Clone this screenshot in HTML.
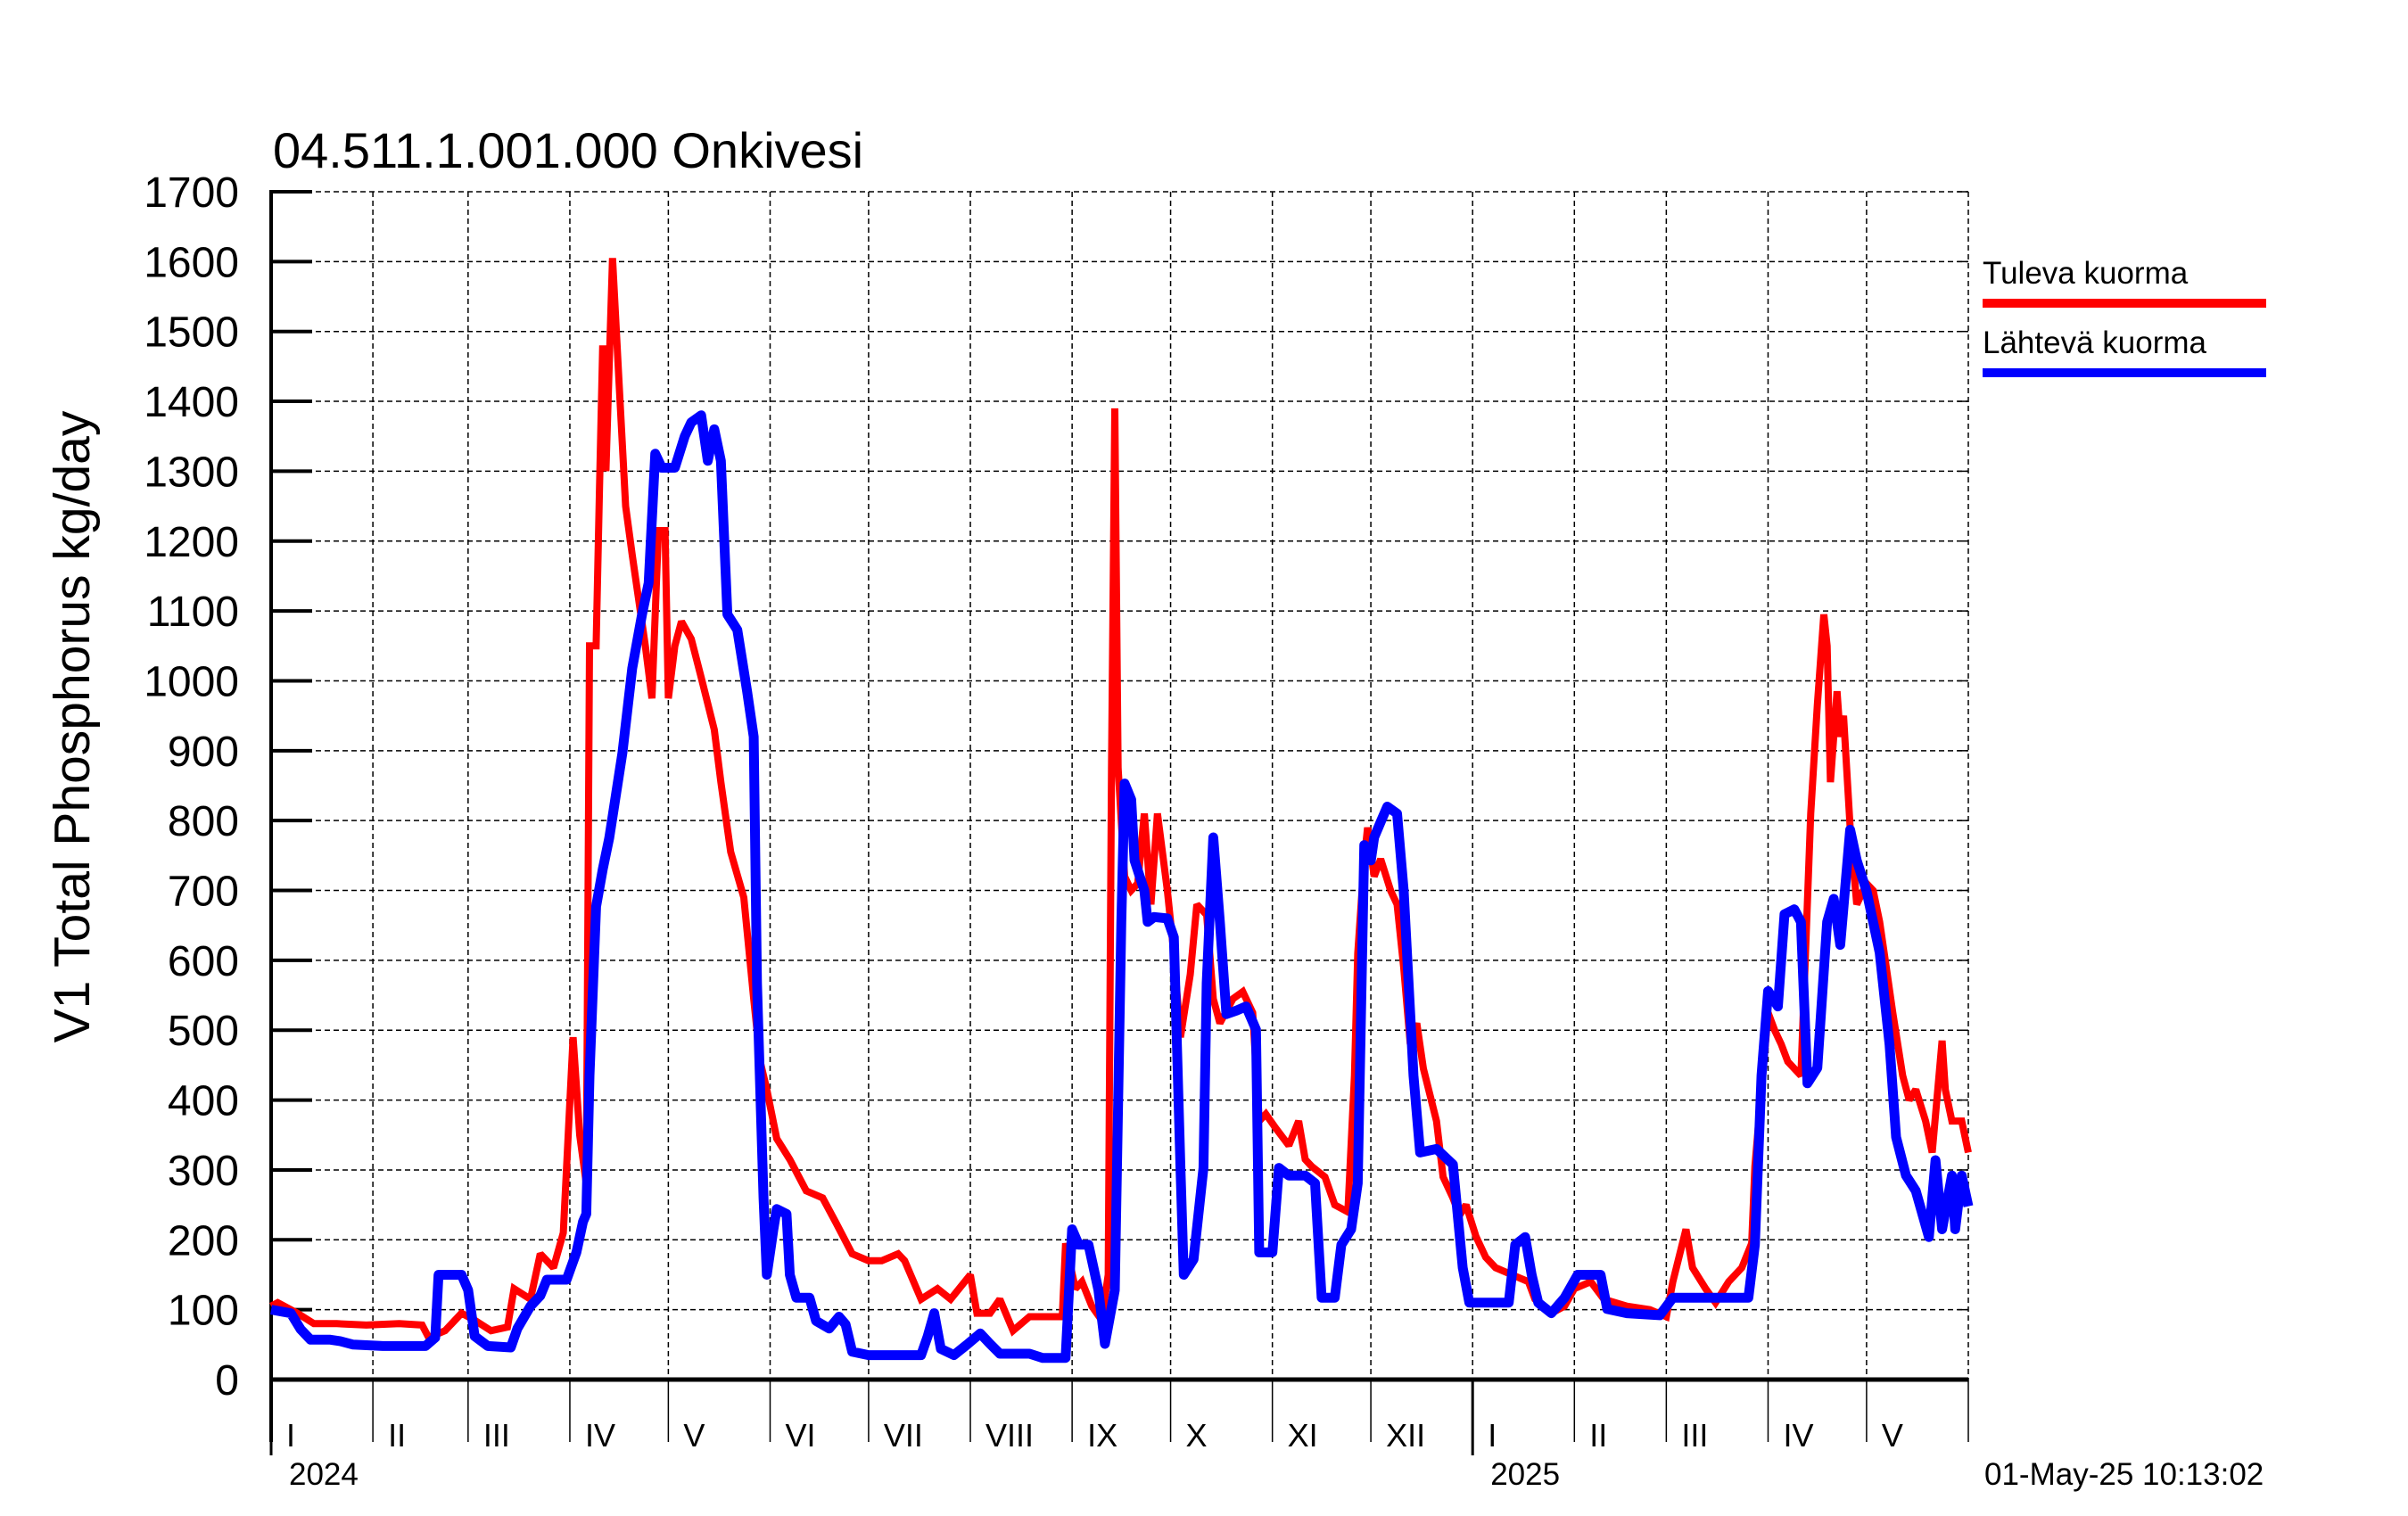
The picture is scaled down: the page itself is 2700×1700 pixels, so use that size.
<!DOCTYPE html>
<html><head><meta charset="utf-8"><style>
html,body{margin:0;padding:0;background:#fff;}
svg{display:block;font-family:"Liberation Sans",Arial,sans-serif;}
</style></head><body>
<svg id="chart" width="2700" height="1700" viewBox="0 0 2700 1700" xmlns="http://www.w3.org/2000/svg">
<rect width="2700" height="1700" fill="#fff"/>
<text x="306" y="188" font-size="56" fill="#000">04.511.1.001.000 Onkivesi</text>
<text transform="translate(100,815) rotate(-90)" text-anchor="middle" font-size="57" fill="#000">V1 Total Phosphorus kg/day</text>
<g id="grid"></g>
<g id="axes"></g>
<g id="series"></g>
<g>
<text x="2223" y="318" font-size="35">Tuleva kuorma</text>
<rect x="2223" y="335" width="318" height="10" fill="#ff0000"/>
<text x="2223" y="396" font-size="35">Lähtevä kuorma</text>
<rect x="2223" y="413" width="318" height="10" fill="#0000ff"/>
</g>
<text x="2225" y="1665" font-size="35">01-May-25 10:13:02</text>
</svg>
<script>
const yTicks=[0,100,200,300,400,500,600,700,800,900,1000,1100,1200,1300,1400,1500,1600,1700];
const monthLabels=["I","II","III","IV","V","VI","VII","VIII","IX","X","XI","XII","I","II","III","IV","V"];
const monthStartDays=[0,31,60,91,121,152,182,213,244,274,305,335,366,397,425,456,486,517];
const yearLabels=["2024","2025"];
const yearStartDays=[0,366];
const tulevaDays=[0,2,8,13,20,29,39,46,48,53,58,62,67,72,74,79,82,86,89,92,94,96,97,99,100,101,102,104,106,108,110,114,116,118,120,121,123,125,128,131,135,137,140,144,147,149,151,154,158,163,168,172,177,182,186,191,193,198,203,207,213,215,219,222,226,231,238,241,242,245,247,250,253,255,256,257,258,260,262,264,266,268,270,273,275,277,280,282,285,287,289,293,296,299,301,303,306,310,313,315,317,321,324,328,330,331,333,334,336,338,341,343,345,347,349,351,355,357,360,362,364,367,370,373,378,383,385,390,394,397,402,406,413,420,425,427,431,433,437,440,444,448,451,452,454,456,458,460,462,466,469,471,473,474,475,477,478,479,481,483,486,488,490,492,494,497,499,501,504,506,509,510,512,515,517];
const tulevaValues=[105,110,95,80,80,78,80,78,60,70,95,85,70,75,130,115,180,160,210,490,350,280,1050,1050,1270,1480,1300,1605,1425,1250,1180,1050,975,1215,1215,975,1050,1085,1060,1005,930,855,755,690,545,455,415,345,315,270,260,225,180,170,170,180,170,115,130,115,150,95,95,115,70,90,90,90,195,130,140,105,85,150,875,1390,875,720,700,710,810,680,810,700,610,490,580,680,665,545,510,545,555,525,370,380,360,335,370,315,305,290,250,240,435,610,745,790,720,745,700,680,590,480,510,445,370,290,260,235,250,205,175,160,150,140,115,95,105,130,140,115,105,100,90,140,215,160,130,110,140,160,195,305,415,525,500,480,455,435,810,965,1095,1050,855,985,920,950,790,680,710,700,655,590,525,435,400,415,370,325,485,415,370,370,325];
const lahtevaDays=[0,6,9,12,18,21,25,34,47,50,51,58,60,62,66,73,75,79,82,84,90,93,95,96,97,99,101,103,107,110,113,115,117,119,123,126,128,131,133,135,137,139,142,145,147,148,150,151,153,154,157,158,160,164,166,170,173,175,177,182,198,200,202,204,208,212,216,219,222,231,235,242,244,246,249,252,254,257,259,260,262,263,266,267,269,273,275,277,278,281,284,285,287,289,291,294,297,300,301,305,307,310,315,318,320,324,326,329,331,333,335,336,338,340,343,345,348,350,355,360,363,365,377,379,382,384,386,390,394,398,405,407,413,423,427,432,450,452,454,456,459,461,464,466,468,471,474,476,478,481,483,486,490,493,495,498,501,505,507,509,512,513,515,517];
const lahtevaValues=[100,95,72,57,57,55,50,48,48,60,150,150,128,62,48,46,73,105,120,143,143,182,226,237,435,677,730,775,897,1018,1095,1140,1325,1305,1305,1350,1370,1380,1315,1360,1315,1095,1073,985,920,567,260,150,215,244,237,150,117,117,84,73,90,79,40,35,35,62,95,44,35,50,66,51,37,37,31,31,215,193,193,128,51,128,655,853,830,743,700,655,662,660,633,303,150,172,303,567,776,655,523,528,534,501,182,182,303,292,292,281,117,117,193,215,281,765,743,776,798,820,810,700,435,325,330,308,160,110,110,193,204,150,110,95,117,150,150,101,95,92,117,117,117,193,435,556,534,666,673,655,424,446,655,688,622,787,743,699,611,479,347,292,270,204,314,215,292,215,292,248];

const NS="http://www.w3.org/2000/svg";
const X0=304,X1=2207,Y0=1547,Y1=215,DMAX=517,VMAX=1700;
function xs(d){return X0+d*(X1-X0)/DMAX;}
function ys(v){return Y0-v*(Y0-Y1)/VMAX;}
function mk(tag,attrs,parent){const e=document.createElementNS(NS,tag);for(const k in attrs)e.setAttribute(k,attrs[k]);parent.appendChild(e);return e;}
const grid=document.getElementById('grid'),axes=document.getElementById('axes'),series=document.getElementById('series');

yTicks.forEach((v,i)=>{
  const y=ys(v);
  if(v>0){
    const gl=mk('line',{x1:X0,x2:X1,y1:y,y2:y,stroke:'#000','stroke-width':1.5,'stroke-dasharray':'6,4'},grid);
    
    
    const tk=mk('line',{x1:X0,x2:X0+46,y1:y,y2:y,stroke:'#000','stroke-width':4},axes);
    
    
    const rt=mk('line',{x1:X1-12,x2:X1,y1:y,y2:y,stroke:'#000','stroke-width':1.5},axes);
    
    
  }
  const t=mk('text',{x:268,y:y+17,'text-anchor':'end','font-size':48,fill:'#000'},axes);
  t.textContent=v;
  
  
});

monthStartDays.forEach((d,i)=>{
  const x=xs(d);
  if(i>0){
    const gl=mk('line',{x1:x,x2:x,y1:Y1,y2:Y0,stroke:'#000','stroke-width':1.5,'stroke-dasharray':'6,4'},grid);
    
    
  }
  const isYear=yearStartDays.indexOf(d)>=0;
  const tl=mk('line',{x1:x,x2:x,y1:Y0,y2:isYear?1632:1617,stroke:'#000','stroke-width':isYear?3:1.5},axes);
  
  
  if(i<monthLabels.length){
    const t=mk('text',{x:x+17,y:1622,'font-size':36,fill:'#000'},axes);
    t.textContent=monthLabels[i];
    
    
  }
});
yearStartDays.forEach((d,i)=>{
  const t=mk('text',{x:xs(d)+20,y:1665,'font-size':35,fill:'#000'},axes);
  t.textContent=yearLabels[i];
  
  
});
const ya=mk('line',{x1:X0,x2:X0,y1:Y1-2,y2:1617,stroke:'#000','stroke-width':4},axes);


const xa=mk('line',{x1:X0,x2:X1,y1:Y0,y2:Y0,stroke:'#000','stroke-width':5},axes);



function pts(ds,vs){return ds.map((d,i)=>xs(d).toFixed(1)+','+ys(vs[i]).toFixed(1)).join(' ');}
const red=mk('polyline',{points:pts(tulevaDays,tulevaValues),fill:'none',stroke:'#ff0000','stroke-width':8,'stroke-linejoin':'miter','stroke-miterlimit':2},series);


const blue=mk('polyline',{points:pts(lahtevaDays,lahtevaValues),fill:'none',stroke:'#0000ff','stroke-width':11,'stroke-linejoin':'round'},series);


</script>
</body></html>
